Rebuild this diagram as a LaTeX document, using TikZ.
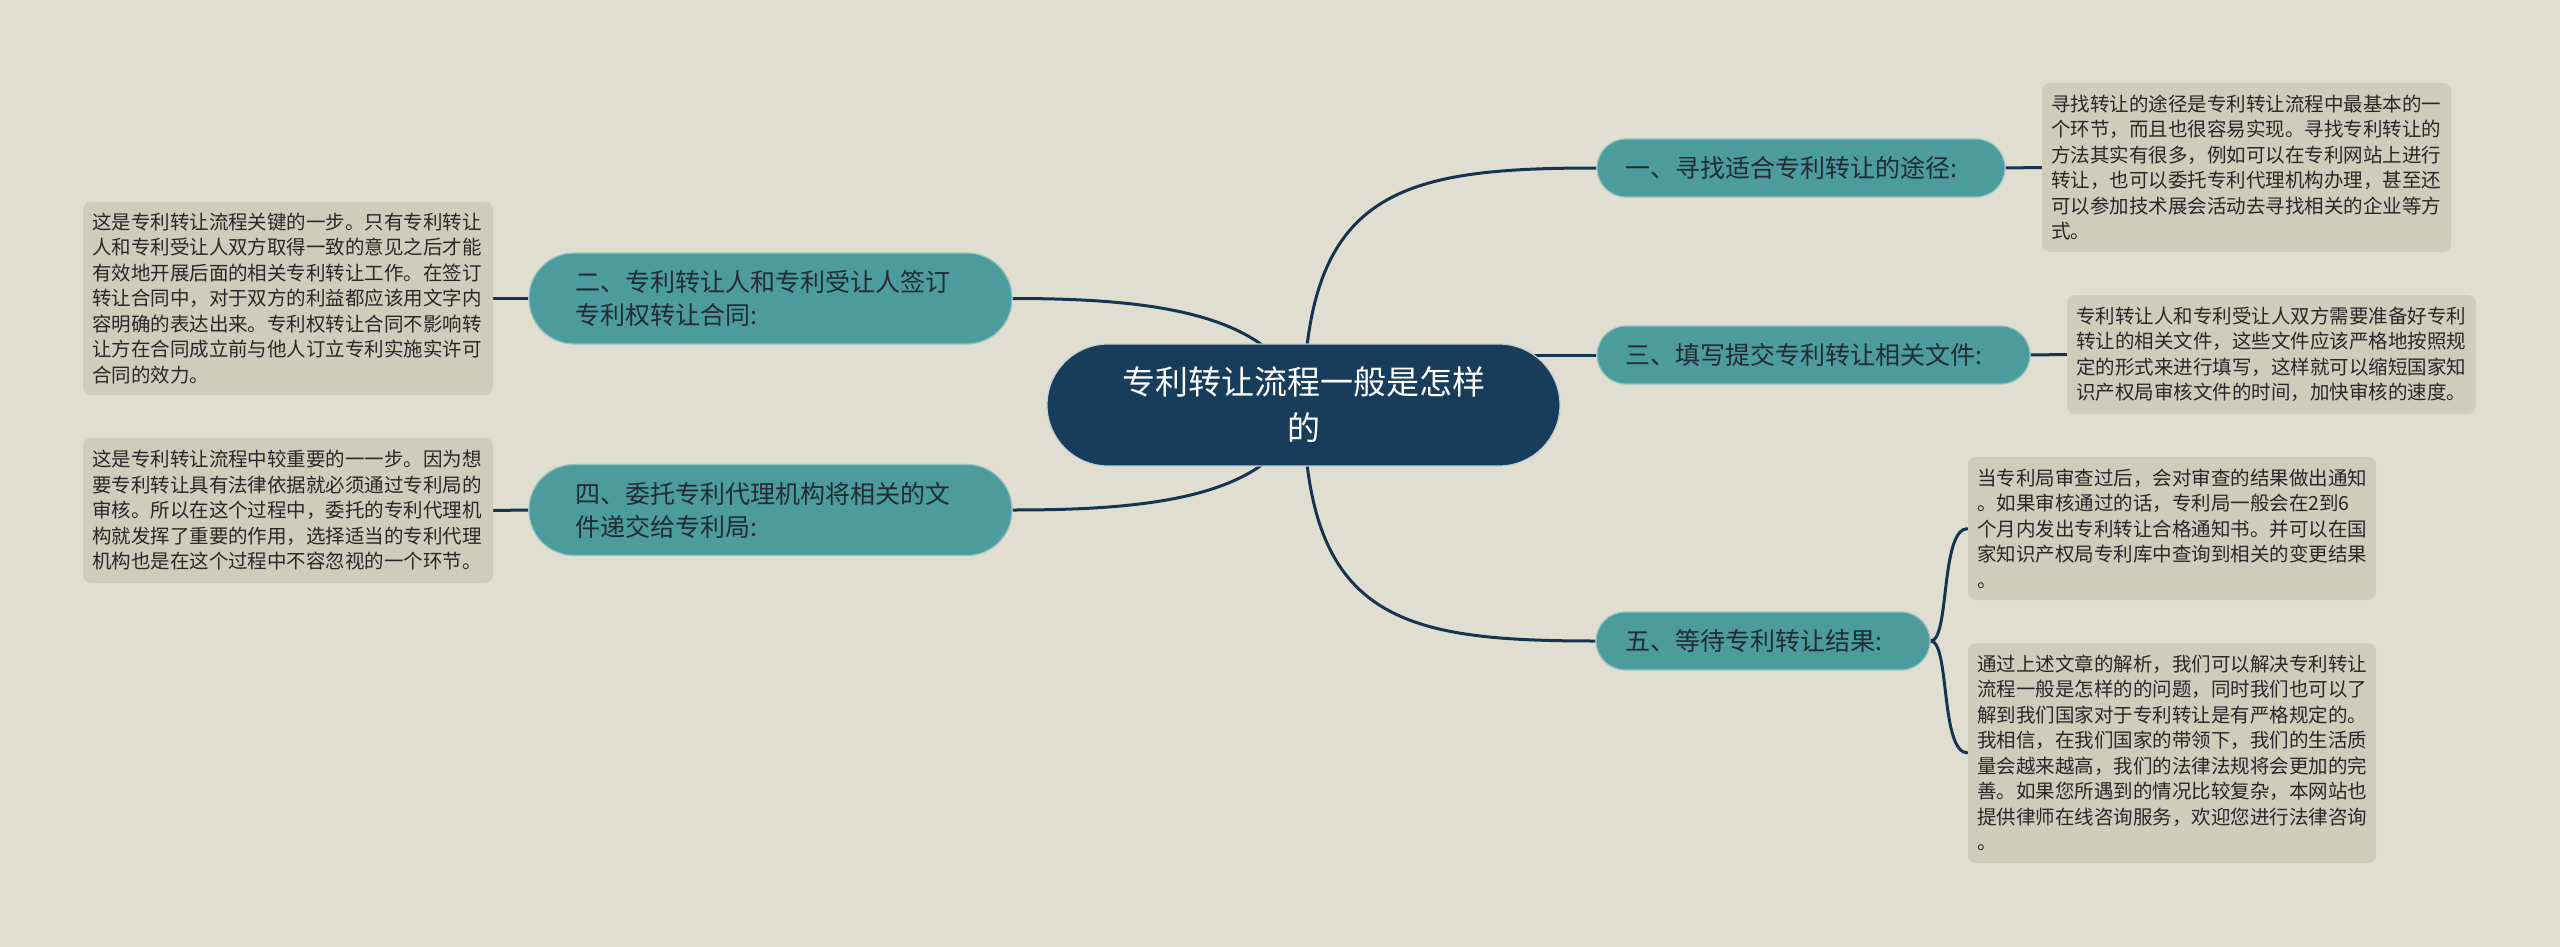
\documentclass[tikz,border=0pt]{standalone}
\usepackage{fontspec}
\setmainfont{Noto Sans CJK SC}
\pgfdeclarelayer{back}
\pgfdeclarelayer{edges}
\pgfsetlayers{back,edges,main}
\definecolor{bgcol}{RGB}{224,222,208}
\definecolor{notefill}{RGB}{206,204,186}
\definecolor{tealfill}{RGB}{76,155,157}
\definecolor{tealrim}{RGB}{150,196,192}
\definecolor{navy}{RGB}{24,61,92}
\definecolor{linecol}{RGB}{22,52,80}
\definecolor{topictext}{RGB}{34,44,50}
\definecolor{notetext}{RGB}{40,40,40}
\tikzset{
  topic/.style={rectangle, rounded corners=29pt, fill=tealfill, draw=tealrim, line width=1.2pt,
    text=topictext, font=\fontsize{25pt}{33pt}\selectfont, align=left,
    inner ysep=0pt, inner xsep=28pt, minimum height=58pt},
  topictwo/.style={topic, rounded corners=45pt, inner xsep=46pt, minimum height=91pt},
  note/.style={rectangle, rounded corners=8pt, fill=notefill, text=notetext,
    font=\fontsize{19.5pt}{25.5pt}\selectfont, align=left, inner xsep=9pt, inner ysep=0pt},
  root/.style={rectangle, rounded corners=61pt, fill=navy, draw=white!75!navy, line width=1.2pt,
    text=white, font=\fontsize{33pt}{46pt}\selectfont, align=center,
    minimum width=513pt, minimum height=122pt, inner sep=0pt},
  link/.style={draw=linecol, line width=3pt},
}
\begin{document}
\begin{tikzpicture}[x=1pt,y=-1pt]
\useasboundingbox (0,0) rectangle (2560,947);
\begin{pgfonlayer}{back}
\fill[bgcol] (0,0) rectangle (2560,947);
\end{pgfonlayer}

\node[root] (c) at (1303.5,405) {专利转让流程一般是怎样\\的};

\node[topic, text width=352pt] (n1) at (1801,168) {一、寻找适合专利转让的途径:};
\node[topic, text width=377pt] (n3) at (1813.5,355) {三、填写提交专利转让相关文件:};
\node[topic, inner xsep=29pt, text width=276pt] (n5) at (1763,641) {五、等待专利转让结果:};
\node[topictwo, text width=391pt] (n2) at (770.5,298.5) {二、专利转让人和专利受让人签订\\专利权转让合同:};
\node[topictwo, text width=391pt] (n4) at (770.5,510) {四、委托专利代理机构将相关的文\\件递交给专利局:};

\node[note, text width=391pt, minimum height=169pt] (r1) at (2246.5,167.5) {寻找转让的途径是专利转让流程中最基本的一\\个环节，而且也很容易实现。寻找专利转让的\\方法其实有很多，例如可以在专利网站上进行\\转让，也可以委托专利代理机构办理，甚至还\\可以参加技术展会活动去寻找相关的企业等方\\式。};
\node[note, text width=391pt, minimum height=119pt] (r2) at (2271.5,354.5) {专利转让人和专利受让人双方需要准备好专利\\转让的相关文件，这些文件应该严格地按照规\\定的形式来进行填写，这样就可以缩短国家知\\识产权局审核文件的时间，加快审核的速度。};
\node[note, text width=390pt, minimum height=143pt] (r3) at (2172,528.5) {当专利局审查过后，会对审查的结果做出通知\\。如果审核通过的话，专利局一般会在2到6\\个月内发出专利转让合格通知书。并可以在国\\家知识产权局专利库中查询到相关的变更结果\\。};
\node[note, text width=390pt, minimum height=220pt] (r4) at (2172,753) {通过上述文章的解析，我们可以解决专利转让\\流程一般是怎样的的问题，同时我们也可以了\\解到我们国家对于专利转让是有严格规定的。\\我相信，在我们国家的带领下，我们的生活质\\量会越来越高，我们的法律法规将会更加的完\\善。如果您所遇到的情况比较复杂，本网站也\\提供律师在线咨询服务，欢迎您进行法律咨询\\。};
\node[note, text width=392pt, minimum height=193pt] (l1) at (288,298.5) {这是专利转让流程关键的一步。只有专利转让\\人和专利受让人双方取得一致的意见之后才能\\有效地开展后面的相关专利转让工作。在签订\\转让合同中，对于双方的利益都应该用文字内\\容明确的表达出来。专利权转让合同不影响转\\让方在合同成立前与他人订立专利实施实许可\\合同的效力。};
\node[note, text width=392pt, minimum height=145pt] (l2) at (288,510.5) {这是专利转让流程中较重要的一一步。因为想\\要专利转让具有法律依据就必须通过专利局的\\审核。所以在这个过程中，委托的专利代理机\\构就发挥了重要的作用，选择适当的专利代理\\机构也是在这个过程中不容忽视的一个环节。};

\begin{pgfonlayer}{edges}
\draw[link] (c.center) .. controls (1306,190) and (1400,168) .. (n1.west);
\draw[link] (c.center |- n3.west) -- (n3.west);
\draw[link] (c.center) .. controls (1306,620) and (1400,641) .. (n5.west);
\draw[link] (n2.east) .. controls (1150,298.5) and (1280,312) .. (c.center);
\draw[link] (n4.east) .. controls (1150,510) and (1280,498) .. (c.center);
\draw[link] (n1.east) -- (r1.west);
\draw[link] (n3.east) -- (r2.west);
\draw[link] (n5.east) .. controls (1950,641) and (1940,528.5) .. (r3.west);
\draw[link] (n5.east) .. controls (1950,641) and (1940,753) .. (r4.west);
\draw[link] (n2.west) -- (l1.east);
\draw[link] (n4.west) -- (l2.east);
\end{pgfonlayer}
\end{tikzpicture}
\end{document}
